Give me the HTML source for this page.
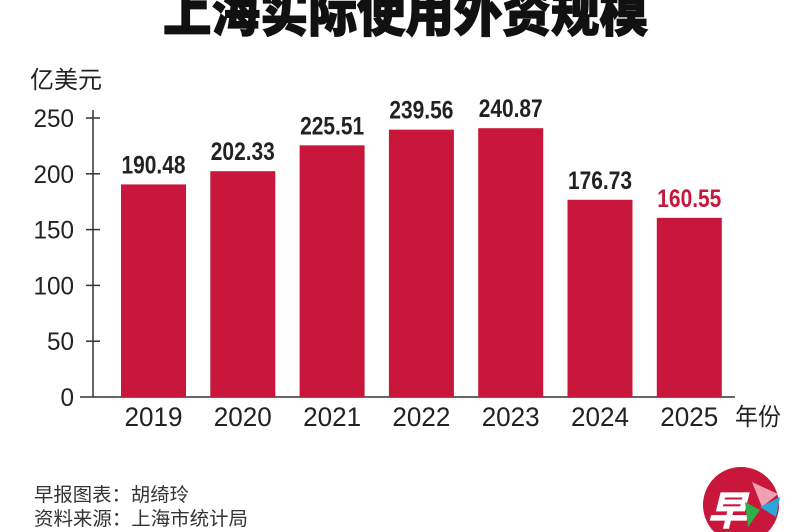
<!DOCTYPE html>
<html><head><meta charset="utf-8"><style>
html,body{margin:0;padding:0;background:#fff;}
svg{display:block;}
text{font-family:"Liberation Sans","Noto Sans CJK SC",sans-serif;}
.cjk{font-family:"Liberation Sans","Noto Sans CJK SC",sans-serif;}
</style></head><body>
<svg id="chart" width="800" height="532" viewBox="0 0 800 532">
<text class="cjk" x="163" y="31" font-size="53" font-weight="900" fill="#111" stroke="#111" stroke-width="1.2" textLength="485" lengthAdjust="spacingAndGlyphs">上海实际使用外资规模</text>
<text class="cjk" x="30" y="88" font-size="24" fill="#222" textLength="72" lengthAdjust="spacingAndGlyphs">亿美元</text>
<text class="cjk" x="735" y="425" font-size="24" fill="#222" textLength="46" lengthAdjust="spacingAndGlyphs">年份</text>
<g id="axes"></g>
<g id="bars"></g>
<text class="cjk" x="34" y="501" font-size="19" fill="#333" textLength="155" lengthAdjust="spacingAndGlyphs">早报图表：胡绮玲</text>
<text class="cjk" x="34" y="525" font-size="19" fill="#333" textLength="214" lengthAdjust="spacingAndGlyphs">资料来源：上海市统计局</text>
<g>
<circle cx="741" cy="505" r="38" fill="#c8173a"/>
<text class="cjk" x="727" y="525" text-anchor="middle" font-size="40" font-weight="900" fill="#fff" font-style="italic">早</text>
<path d="M752 482 L778 494 L762 507 Z" fill="#f0a0b0"/>
<path d="M760 507 L780 497 L776 517 Z" fill="#2aa8d8"/>
<path d="M745 502 L760 510 L748 527 Z" fill="#2fae4a"/>
</g>
</svg>
<script>
const categories=["2019","2020","2021","2022","2023","2024","2025"];
const values=[190.48,202.33,225.51,239.56,240.87,176.73,160.55];
const valueLabels=["190.48","202.33","225.51","239.56","240.87","176.73","160.55"];
const yTicks=[0,50,100,150,200,250];
const NS="http://www.w3.org/2000/svg";
const y0=397,pxPer=279/250,x0=121,step=89.3,bw=65;
function yScale(v){return y0-v*pxPer;}
function xScale(i){return x0+i*step;}
function mk(t,a,p){const e=document.createElementNS(NS,t);for(const k in a)e.setAttribute(k,a[k]);p.appendChild(e);return e;}
const axes=document.getElementById('axes'),bars=document.getElementById('bars');
let l=mk('line',{x1:93,y1:110,x2:93,y2:y0,stroke:'#333','stroke-width':1.5},axes);


l=mk('line',{x1:80,y1:y0,x2:735,y2:y0,stroke:'#333','stroke-width':1.5},axes);


yTicks.forEach(v=>{
 const y=yScale(v);
 if(v>0){const t=mk('line',{x1:86,y1:y,x2:100,y2:y,stroke:'#333','stroke-width':1.5},axes);
 
 }
 const s=String(v);
 const tx=mk('text',{x:74,y:y+9,'text-anchor':'end','font-size':25,fill:'#222',textLength:s.length*13.5,lengthAdjust:'spacingAndGlyphs'},axes);
 tx.textContent=s;
 
 
});
categories.forEach((c,i)=>{
 const x=xScale(i),y=yScale(values[i]);
 const r=mk('rect',{x:x,y:y,width:bw,height:y0-y,fill:'#c8173a'},bars);
 
 
 const lb=mk('text',{x:x+bw/2,y:y-11,'text-anchor':'middle','font-size':25,'font-weight':'bold',fill:i===categories.length-1?'#c8173a':'#222',textLength:64,lengthAdjust:'spacingAndGlyphs'},bars);
 lb.textContent=valueLabels[i];
 
 
 const xl=mk('text',{x:x+bw/2,y:426,'text-anchor':'middle','font-size':27,fill:'#222',textLength:58,lengthAdjust:'spacingAndGlyphs'},bars);
 xl.textContent=c;
 
 
});
</script>
</body></html>
